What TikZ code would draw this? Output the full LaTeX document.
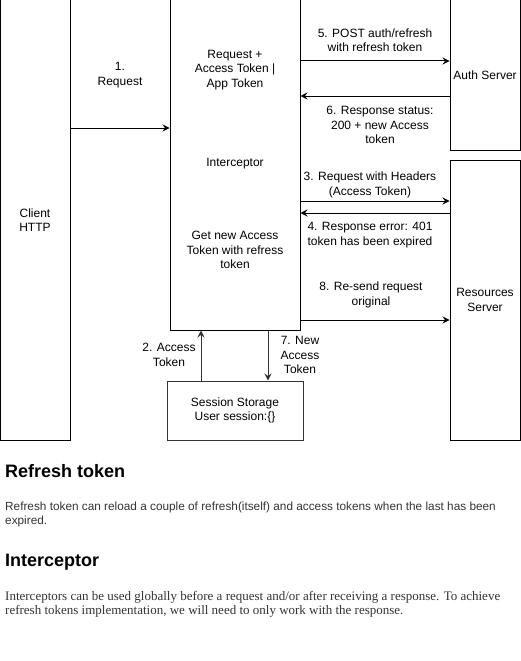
\documentclass[tikz,border=0pt]{standalone}
\usepackage{fontspec}
\setmainfont{Liberation Sans}
\newfontfamily\parafont{Liberation Serif}
\usetikzlibrary{arrows.meta}
\definecolor{dkgray}{HTML}{333333}
\definecolor{txtgray}{HTML}{333333}
\tikzset{
  box/.style={draw, line width=1pt, inner sep=0pt, align=center, font=\fontsize{12}{14.4}\selectfont},
  lbl/.style={align=center, inner sep=0pt, font=\fontsize{12}{14.4}\selectfont},
  arr/.style={-{Stealth[length=7pt,width=7pt,inset=2.5pt]}, line width=1pt},
}
\begin{document}
\begin{tikzpicture}[x=1pt, y=-1pt]
    \useasboundingbox (0,0) rectangle (521,661);
    % boxes
    \node[box, minimum width=70pt, minimum height=440pt] (client) at (35,220) {Client\\HTTP};
    \node[box, minimum width=130pt, minimum height=330pt] (icpt) at (235,165) {};
    \node[box, minimum width=70pt, minimum height=150pt] (auth) at (485,75) {Auth Server};
    \node[box, minimum width=70pt, minimum height=280pt] (res) at (485,300) {Resources\\Server};
    \node[box, draw=dkgray, minimum width=136pt, minimum height=59pt] (store) at (235,410.5) {Session Storage\\User session:\{\}};
    % texts inside the interceptor
    \node[lbl] (reqtok) at (235,70) {Request +\\Access Token |\\App Token};
    \node[lbl] (icptname) at (235,164) {Interceptor};
    \node[lbl] (newtok) at (235,250) {Get new Access\\Token with refress\\token};
    % connectors
    \draw[arr] (client.east |- 0,128) -- (icpt.west |- 0,128);
    \draw[arr] (icpt.east |- 0,61) -- (auth.west |- 0,61);
    \draw[arr] (auth.west |- 0,96) -- (icpt.east |- 0,96);
    \draw[arr] (icpt.east |- 0,201) -- (res.west |- 0,201);
    \draw[arr] (res.west |- 0,213) -- (icpt.east |- 0,213);
    \draw[arr] (icpt.east |- 0,320) -- (res.west |- 0,320);
    \draw[arr, dkgray] (store.north -| 201,0) -- (icpt.south -| 201,0);
    \draw[arr, dkgray] (icpt.south -| 268,0) -- (store.north -| 268,0);
    % connector labels
    \node[lbl] (l1) at (120,75) {1.\\Request};
    \node[lbl] (l5) at (375,40) {5. POST auth/refresh\\with refresh token};
    \node[lbl] (l6) at (380,125) {6. Response status:\\200 + new Access\\token};
    \node[lbl] (l3) at (370,185) {3. Request with Headers\\(Access Token)};
    \node[lbl] (l4) at (370,235) {4. Response error: 401\\token has been expired};
    \node[lbl] (l8) at (371,295) {8. Re-send request\\original};
    \node[lbl] (l2) at (169,355) {2. Access\\Token};
    \node[lbl] (l7) at (300,355) {7. New\\Access\\Token};
    % notes below
    \node[anchor=west, inner sep=0pt, font=\bfseries\fontsize{18}{20}\selectfont] (hrefresh) at (5,471) {Refresh token};
    \node[anchor=west, inner sep=0pt, align=left, text=txtgray, font=\fontsize{11.8}{14}\selectfont] (prefresh) at (5,514.5)
      {Refresh token can reload a couple of refresh(itself) and access tokens when the last has been\\expired.};
    \node[anchor=west, inner sep=0pt, font=\bfseries\fontsize{18}{20}\selectfont] (hicpt) at (5,562) {Interceptor};
    \node[anchor=west, inner sep=0pt, align=left, text=txtgray, font=\parafont\fontsize{13}{14.5}\selectfont] (picpt) at (5,604.5)
      {Interceptors can be used globally before a request and/or after receiving a response. To achieve\\refresh tokens implementation, we will need to only work with the response.};
\end{tikzpicture}
\end{document}
